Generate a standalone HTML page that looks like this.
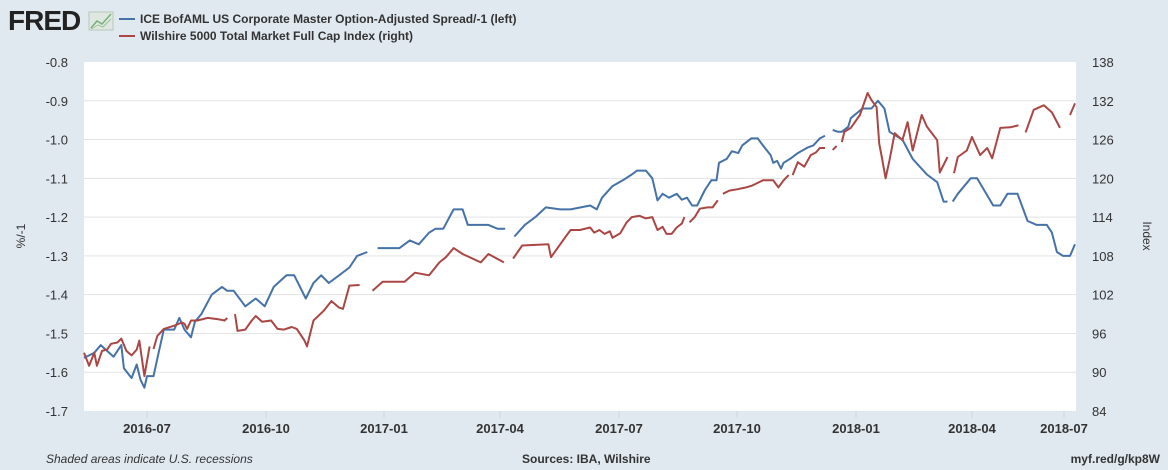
<!DOCTYPE html>
<html><head><meta charset="utf-8">
<style>
body{margin:0;width:1168px;height:470px;background:#e1e9f0;font-family:"Liberation Sans",sans-serif;overflow:hidden}
svg{display:block}
</style></head>
<body>
<svg id="c" width="1168" height="470" xmlns="http://www.w3.org/2000/svg">
<text x="8" y="30" font-size="28" font-weight="bold" fill="#222" letter-spacing="-1">FRED</text>
<g>
<rect x="89" y="12" width="24" height="18" fill="#dfe8e0" stroke="#b8c8b8"/>
<polyline points="91,28 97,21 102,24 111,14" fill="none" stroke="#7ab07a" stroke-width="1.5"/>
<polyline points="91,29 98,25 103,27 111,19" fill="none" stroke="#9cc49c" stroke-width="1"/>
</g>
<g>
<line x1="119" y1="19" x2="135" y2="19" stroke="#4572a7" stroke-width="2"/>
<text x="140" y="23" font-size="12" font-weight="bold" fill="#333">ICE BofAML US Corporate Master Option-Adjusted Spread/-1 (left)</text>
<line x1="119" y1="36" x2="135" y2="36" stroke="#aa4643" stroke-width="2"/>
<text x="140" y="40" font-size="12" font-weight="bold" fill="#333">Wilshire 5000 Total Market Full Cap Index (right)</text>
</g>
<rect x="84" y="62" width="992" height="349" fill="#fff"/>
<g id="grid"></g><g id="series"></g><g id="axes"></g>
<text transform="translate(25,236) rotate(-90)" text-anchor="middle" font-size="12" fill="#333">%/-1</text>
<text transform="translate(1143,236) rotate(90)" text-anchor="middle" font-size="12" fill="#333">Index</text>
<text x="46" y="463" font-size="12" font-style="italic" fill="#333">Shaded areas indicate U.S. recessions</text>
<text x="522" y="463" font-size="12" font-weight="bold" fill="#333">Sources: IBA, Wilshire</text>
<text x="1160" y="463" text-anchor="end" font-size="12" font-weight="bold" fill="#333">myf.red/g/kp8W</text>
</svg>
<script>
const leftTicks=[-0.8,-0.9,-1.0,-1.1,-1.2,-1.3,-1.4,-1.5,-1.6,-1.7];
const rightTicks=[138,132,126,120,114,108,102,96,90,84];
const xTickLabels=["2016-07","2016-10","2017-01","2017-04","2017-07","2017-10","2018-01","2018-04","2018-07"];
const spreadDates=["2016-05-13","2016-05-21","2016-05-26","2016-06-05","2016-06-11","2016-06-13","2016-06-19","2016-06-23","2016-06-26","2016-06-29","2016-07-01","2016-07-06","2016-07-10","2016-07-14","2016-07-22","2016-07-26","2016-07-30","2016-08-04","2016-08-07","2016-08-12","2016-08-20","2016-08-28","2016-09-01","2016-09-06","2016-09-15","2016-09-23","2016-09-30","2016-10-07","2016-10-17","2016-10-23","2016-11-01","2016-11-07","2016-11-13","2016-11-19","2016-11-27","2016-12-05","2016-12-11","2016-12-19","2016-12-23","2016-12-27","2016-12-31","2017-01-13","2017-01-21","2017-01-28","2017-02-05","2017-02-10","2017-02-16","2017-02-24","2017-03-03","2017-03-07","2017-03-15","2017-03-23","2017-03-30","2017-04-05","2017-04-09","2017-04-12","2017-04-20","2017-04-28","2017-05-06","2017-05-17","2017-05-25","2017-06-09","2017-06-14","2017-06-18","2017-06-26","2017-07-04","2017-07-11","2017-07-15","2017-07-22","2017-07-27","2017-07-31","2017-08-04","2017-08-09","2017-08-15","2017-08-19","2017-08-23","2017-08-27","2017-08-31","2017-09-06","2017-09-11","2017-09-15","2017-09-17","2017-09-23","2017-09-27","2017-10-02","2017-10-05","2017-10-12","2017-10-17","2017-10-21","2017-10-27","2017-10-29","2017-11-01","2017-11-04","2017-11-06","2017-11-11","2017-11-17","2017-11-25","2017-11-29","2017-12-04","2017-12-08","2017-12-11","2017-12-14","2017-12-18","2017-12-21","2017-12-26","2017-12-28","2018-01-06","2018-01-13","2018-01-18","2018-01-23","2018-01-27","2018-02-06","2018-02-14","2018-02-25","2018-03-05","2018-03-10","2018-03-13","2018-03-15","2018-03-17","2018-03-21","2018-03-31","2018-04-06","2018-04-22","2018-04-29","2018-05-06","2018-05-16","2018-05-26","2018-06-04","2018-06-14","2018-06-19","2018-06-24","2018-06-30","2018-07-07","2018-07-12"];
const spreadValues=[-1.563,-1.55,-1.53,-1.56,-1.53,-1.59,-1.615,-1.58,-1.62,-1.64,-1.61,-1.61,-1.55,-1.49,-1.49,-1.46,-1.49,-1.51,-1.47,-1.45,-1.40,-1.38,-1.39,-1.39,-1.43,-1.41,-1.43,-1.38,-1.35,-1.35,-1.41,-1.37,-1.35,-1.37,-1.35,-1.33,-1.30,-1.29,null,-1.28,-1.28,-1.28,-1.26,-1.27,-1.24,-1.23,-1.23,-1.18,-1.18,-1.22,-1.22,-1.22,-1.23,-1.23,null,-1.25,-1.22,-1.20,-1.175,-1.18,-1.18,-1.17,-1.18,-1.15,-1.12,-1.105,-1.09,-1.08,-1.08,-1.10,-1.157,-1.14,-1.15,-1.14,-1.155,-1.15,-1.17,-1.17,-1.13,-1.105,-1.105,-1.06,-1.05,-1.03,-1.035,-1.015,-0.997,-0.997,-1.015,-1.04,-1.06,-1.055,-1.075,-1.06,-1.05,-1.035,-1.02,-1.015,-0.997,-0.99,null,-0.975,-0.98,-0.98,-0.967,-0.945,-0.92,-0.92,-0.90,-0.92,-0.98,-1.00,-1.05,-1.09,-1.11,-1.16,-1.16,null,-1.16,-1.14,-1.10,-1.10,-1.17,-1.17,-1.14,-1.14,-1.21,-1.22,-1.22,-1.24,-1.29,-1.30,-1.30,-1.27];
const wilshireDates=["2016-05-13","2016-05-17","2016-05-21","2016-05-23","2016-05-27","2016-05-31","2016-06-03","2016-06-08","2016-06-11","2016-06-15","2016-06-19","2016-06-23","2016-06-25","2016-06-29","2016-07-03","2016-07-05","2016-07-06","2016-07-09","2016-07-14","2016-07-22","2016-07-28","2016-07-30","2016-08-01","2016-08-04","2016-08-09","2016-08-17","2016-08-25","2016-08-30","2016-09-01","2016-09-03","2016-09-07","2016-09-09","2016-09-15","2016-09-20","2016-09-23","2016-09-28","2016-10-05","2016-10-10","2016-10-15","2016-10-21","2016-10-25","2016-10-31","2016-11-02","2016-11-07","2016-11-15","2016-11-21","2016-11-27","2016-11-30","2016-12-05","2016-12-13","2016-12-18","2016-12-23","2016-12-31","2017-01-09","2017-01-17","2017-01-25","2017-02-05","2017-02-13","2017-02-18","2017-02-24","2017-03-03","2017-03-17","2017-03-23","2017-04-04","2017-04-08","2017-04-11","2017-04-18","2017-05-08","2017-05-10","2017-05-21","2017-05-25","2017-06-01","2017-06-09","2017-06-12","2017-06-16","2017-06-20","2017-06-24","2017-06-26","2017-07-02","2017-07-07","2017-07-11","2017-07-17","2017-07-22","2017-07-27","2017-07-31","2017-08-04","2017-08-07","2017-08-11","2017-08-15","2017-08-19","2017-08-21","2017-08-23","2017-08-25","2017-08-29","2017-09-02","2017-09-08","2017-09-12","2017-09-16","2017-09-18","2017-09-20","2017-09-25","2017-10-01","2017-10-08","2017-10-13","2017-10-16","2017-10-21","2017-10-29","2017-11-02","2017-11-06","2017-11-10","2017-11-12","2017-11-13","2017-11-17","2017-11-22","2017-11-27","2017-12-01","2017-12-04","2017-12-08","2017-12-11","2017-12-14","2017-12-17","2017-12-19","2017-12-21","2017-12-23","2017-12-28","2018-01-04","2018-01-10","2018-01-13","2018-01-17","2018-01-19","2018-01-21","2018-01-24","2018-01-27","2018-01-31","2018-02-06","2018-02-10","2018-02-14","2018-02-21","2018-02-25","2018-03-05","2018-03-07","2018-03-13","2018-03-15","2018-03-18","2018-03-21","2018-03-28","2018-04-01","2018-04-09","2018-04-16","2018-04-21","2018-04-29","2018-05-09","2018-05-17","2018-05-20","2018-05-24","2018-06-01","2018-06-11","2018-06-19","2018-06-27","2018-07-02","2018-07-07","2018-07-12"];
const wilshireValues=[93,91,93,91,93.3,93.5,94.4,94.6,95.2,93.3,92.6,93.5,94.9,89.4,94,null,93.6,95.6,96.7,97.2,97.7,97.5,96.7,98,98,98.4,98.2,98,98.4,null,99,96.4,96.6,98,98.7,97.8,98,96.7,96.6,97,96.7,94.9,94,98,99.5,101,100,99.8,103.4,103.5,null,102.6,104,104,104,105.4,105,107,107.8,109.2,108.3,107,108.3,107,null,107.6,109.6,109.8,107.8,110.9,112,112,112.4,111.6,112,111.4,111.8,110.8,111.5,113.2,114,114.2,113.8,114,112,112.5,111.4,111.4,112.4,113,114,null,113.2,114,115.3,115.5,115.5,116.6,null,117.6,118.1,118.3,118.6,118.9,119.2,119.7,119.7,118.6,119.7,120.5,null,120.5,122.5,121.8,123.6,124,124.7,124.7,null,124.4,125,null,125.6,127.2,127.8,129.8,133.2,132.1,131,125.4,123.3,120,122.8,127,125.9,128.7,124.3,129.8,128,125.9,120.9,123.3,null,120.8,123.3,124.3,126.4,123.6,124.7,123.1,127.8,127.9,128.2,null,127.1,130.6,131.3,130.2,127.8,null,129.8,131.6];

const NS="http://www.w3.org/2000/svg";
const PL=84,PR=1076,PT=62,PB=411;
const xAnchorsD=["2016-05-13","2016-07-01","2016-10-01","2017-01-01","2017-04-01","2017-07-01","2017-10-01","2018-01-01","2018-04-01","2018-07-01","2018-07-13"].map(d=>Date.parse(d));
const xAnchorsP=[84,147,266,384,500,619,737,856,972,1064,1076];
function x(d){const t=Date.parse(d);for(let i=0;i<xAnchorsD.length-1;i++){if(t<=xAnchorsD[i+1]||i==xAnchorsD.length-2){return xAnchorsP[i]+(t-xAnchorsD[i])/(xAnchorsD[i+1]-xAnchorsD[i])*(xAnchorsP[i+1]-xAnchorsP[i]);}}}
function yL(v){return PT+(-0.8-v)/0.9*(PB-PT);}
function yR(v){return PT+(138-v)/54*(PB-PT);}
function mk(tag,attrs,parent){const e=document.createElementNS(NS,tag);for(const k in attrs)e.setAttribute(k,attrs[k]);parent.appendChild(e);return e;}
const grid=document.getElementById('grid'),axes=document.getElementById('axes'),ser=document.getElementById('series');
leftTicks.forEach((v,i)=>{
  const y=yL(v);
  if(i>0&&i<leftTicks.length-1){const g=mk('line',{x1:PL,x2:PR,y1:y,y2:y,stroke:'#e3e3e3','stroke-width':1},grid);
  
  }
  const t=mk('text',{x:68,y:y+5,'text-anchor':'end','font-size':13,fill:'#333'},axes);t.textContent=v.toFixed(1);
  
  
});
rightTicks.forEach(v=>{
  const t=mk('text',{x:1092,y:yR(v)+5,'font-size':13,fill:'#333'},axes);t.textContent=v;
  
  
});
xTickLabels.forEach(l=>{
  const px=x(l+"-01");
  const tk=mk('line',{x1:px,x2:px,y1:PB,y2:PB+7,stroke:'#ccd6e0'},axes);
  
  
  const t=mk('text',{x:px,y:433,'text-anchor':'middle','font-size':13,'font-weight':'bold',fill:'#333'},axes);t.textContent=l;
  
  
});
function path(dates,vals,yf){let d='',pen=false;dates.forEach((dt,i)=>{const v=vals[i];if(v==null){pen=false;return;}d+=(pen?'L':'M')+x(dt).toFixed(1)+','+yf(v).toFixed(1);pen=true;});return d;}
const pb=mk('path',{d:path(spreadDates,spreadValues,yL),fill:'none',stroke:'#4572a7','stroke-width':2,'stroke-linejoin':'round'},ser);


const pr=mk('path',{d:path(wilshireDates,wilshireValues,yR),fill:'none',stroke:'#aa4643','stroke-width':2,'stroke-linejoin':'round'},ser);


</script>
</body></html>
